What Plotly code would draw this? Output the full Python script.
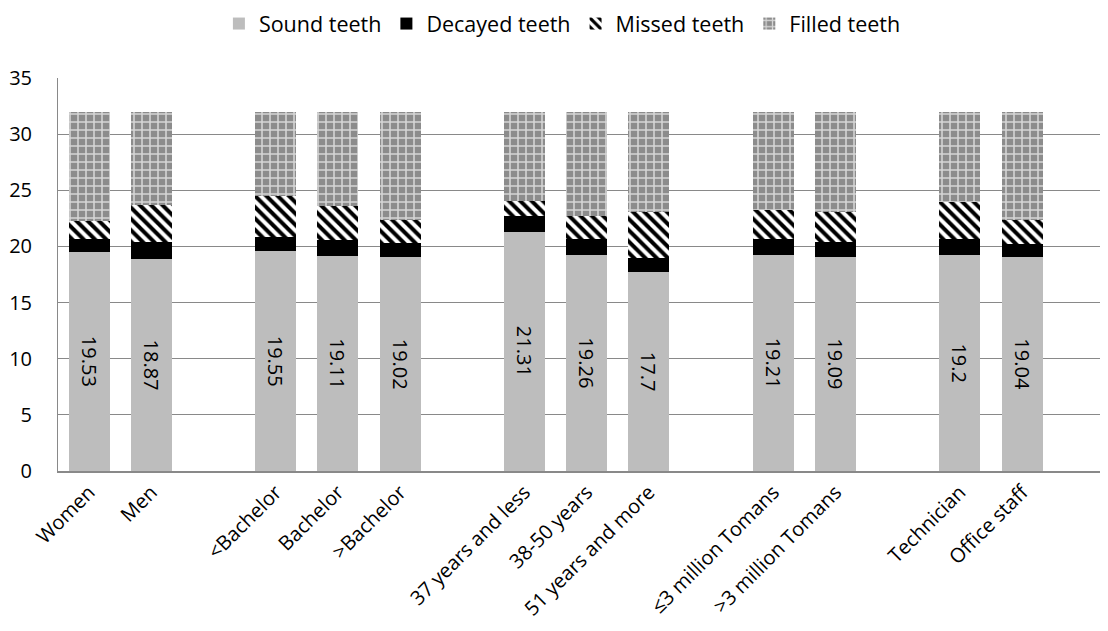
import plotly.graph_objects as go

categories = ["Women", "Men", " ",
              "<Bachelor", "Bachelor", ">Bachelor", "  ",
              "37 years and less", "38-50 years", "51 years and more", "   ",
              "≤3 million Tomans", ">3 million Tomans", "    ",
              "Technician", "Office staff"]
sound = [19.53, 18.87, None, 19.55, 19.11, 19.02, None, 21.31, 19.26, 17.7, None, 19.21, 19.09, None, 19.2, 19.04]
decayed = [1.11, 1.53, None, 1.30, 1.50, 1.29, None, 1.40, 1.41, 1.28, None, 1.43, 1.31, None, 1.44, 1.22]
missed = [1.63, 3.33, None, 3.65, 3.00, 2.08, None, 1.34, 2.04, 4.09, None, 2.58, 2.67, None, 3.32, 2.07]
filled = [9.73, 8.27, None, 7.50, 8.39, 9.61, None, 7.95, 9.29, 8.93, None, 8.78, 8.93, None, 8.04, 9.67]
y_ticks = [0, 5, 10, 15, 20, 25, 30, 35]

FONT = "Open Sans"

fig = go.Figure()
fig.add_trace(go.Bar(
    name="Sound teeth", x=categories, y=sound,
    marker=dict(color="#bdbdbd", line=dict(width=0)),
    text=["" if v is None else str(v) for v in sound],
    textposition="inside", insidetextanchor="middle", textangle=90,
    textfont=dict(family=FONT, size=20, color="black"),
))
fig.add_trace(go.Bar(
    name="Decayed teeth", x=categories, y=decayed,
    marker=dict(color="black", line=dict(width=0)),
))
fig.add_trace(go.Bar(
    name="Missed teeth", x=categories, y=missed,
    marker=dict(color="white", line=dict(width=0),
                pattern=dict(shape="\\", fgcolor="black", bgcolor="white",
                             size=8, solidity=0.5, fillmode="replace")),
))
fig.add_trace(go.Bar(
    name="Filled teeth", x=categories, y=filled,
    marker=dict(color="#8c8c8c", line=dict(width=0),
                pattern=dict(shape="+", fgcolor="#d6d6d6", bgcolor="#8c8c8c",
                             size=8, solidity=0.35, fillmode="replace")),
))

fig.update_layout(
    barmode="stack",
    bargap=0.34,
    width=1100, height=623,
    margin=dict(l=50, r=0, t=70, b=160, autoexpand=False),
    paper_bgcolor="white", plot_bgcolor="white",
    font=dict(family=FONT, size=20, color="black"),
    showlegend=True,
    legend=dict(orientation="h", xref="container", x=0.504, xanchor="center",
                yref="container", y=0.975, yanchor="middle",
                font=dict(family=FONT, size=21.5, color="black"),
                traceorder="normal", itemwidth=30, bgcolor="rgba(0,0,0,0)"),
    xaxis=dict(type="category", categoryorder="array", categoryarray=categories,
               range=[-0.5, 16.38], tickangle=-45, showgrid=False, automargin=False,
               showline=True, linecolor="#898989", linewidth=1.5,
               ticks="", tickfont=dict(family=FONT, size=20, color="black")),
    yaxis=dict(range=[0, 35], tickvals=y_ticks, showgrid=True, gridcolor="#898989",
               gridwidth=1, showline=True, linecolor="#898989", linewidth=1,
               zeroline=False, ticks="", ticklabelstandoff=21, automargin=False,
               tickfont=dict(family=FONT, size=20, color="black")),
)

fig.write_html("out.html")
